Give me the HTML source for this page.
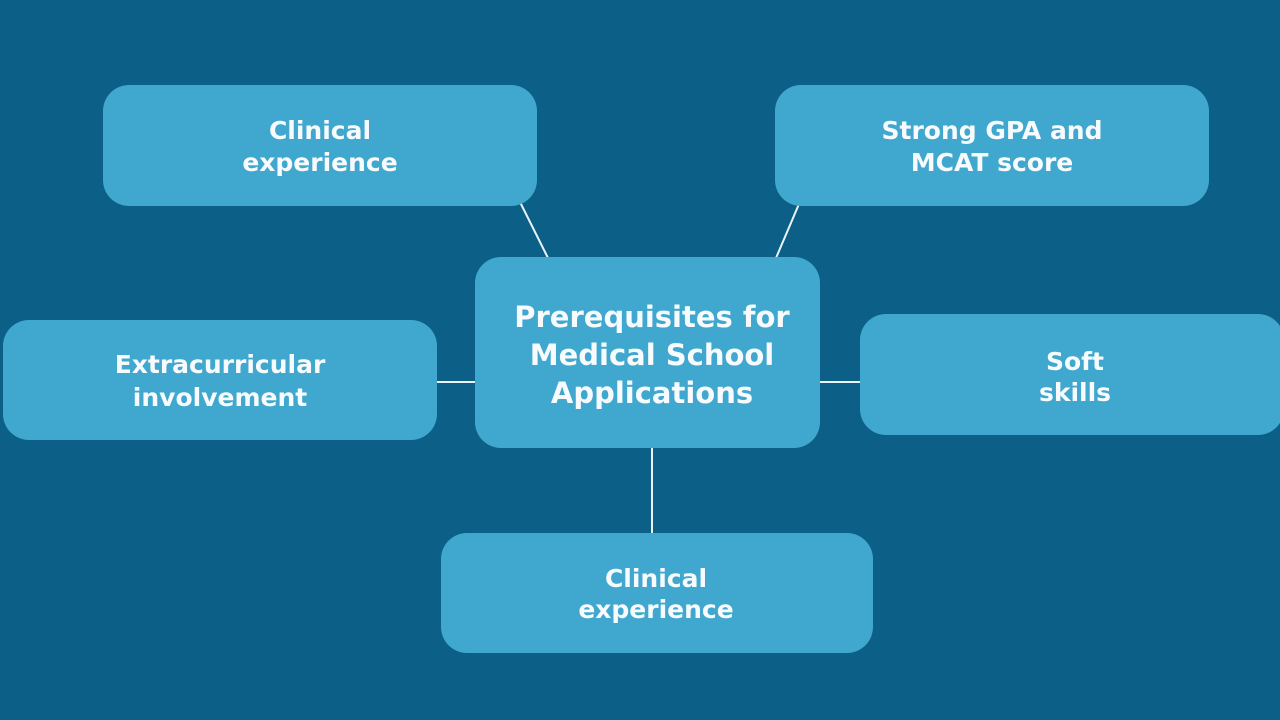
<!DOCTYPE html>
<html>
<head>
<meta charset="utf-8">
<style>
  html, body { margin: 0; padding: 0; background: #0c5f87; }
  svg { display: block; }
  text { font-family: "DejaVu Sans", "Liberation Sans", sans-serif; font-weight: bold; fill: #f7fbfd; text-anchor: middle; }
</style>
</head>
<body>
<svg width="1280" height="720" viewBox="0 0 1280 720" xmlns="http://www.w3.org/2000/svg">
  <rect x="0" y="0" width="1280" height="720" fill="#0c5f87"/>
  <!-- connectors -->
  <g stroke="#e8f4f9" stroke-width="2" fill="none">
    <line x1="520" y1="202" x2="548" y2="258"/>
    <line x1="799" y1="204" x2="776" y2="258"/>
    <line x1="436" y1="382" x2="476" y2="382"/>
    <line x1="819" y1="382" x2="861" y2="382"/>
    <line x1="652" y1="447" x2="652" y2="534"/>
  </g>
  <!-- boxes -->
  <g fill="#40a8ce">
    <rect x="103" y="85" width="434" height="121" rx="26" ry="26"/>
    <rect x="775" y="85" width="434" height="121" rx="26" ry="26"/>
    <rect x="475" y="257" width="345" height="191" rx="26" ry="26"/>
    <rect x="3" y="320" width="434" height="120" rx="26" ry="26"/>
    <rect x="860" y="314" width="424" height="121" rx="26" ry="26"/>
    <rect x="441" y="533" width="432" height="120" rx="26" ry="26"/>
  </g>
  <!-- labels -->
  <g font-size="25">
    <text x="320" y="139">Clinical</text>
    <text x="320" y="171">experience</text>

    <text x="992" y="139">Strong GPA and</text>
    <text x="992" y="171">MCAT score</text>

    <text x="220" y="373">Extracurricular</text>
    <text x="220" y="406">involvement</text>

    <text x="1075" y="370">Soft</text>
    <text x="1075" y="401">skills</text>

    <text x="656" y="587">Clinical</text>
    <text x="656" y="618">experience</text>
  </g>
  <g font-size="29">
    <text x="652" y="327">Prerequisites for</text>
    <text x="652" y="365">Medical School</text>
    <text x="652" y="403">Applications</text>
  </g>
</svg>
</body>
</html>
